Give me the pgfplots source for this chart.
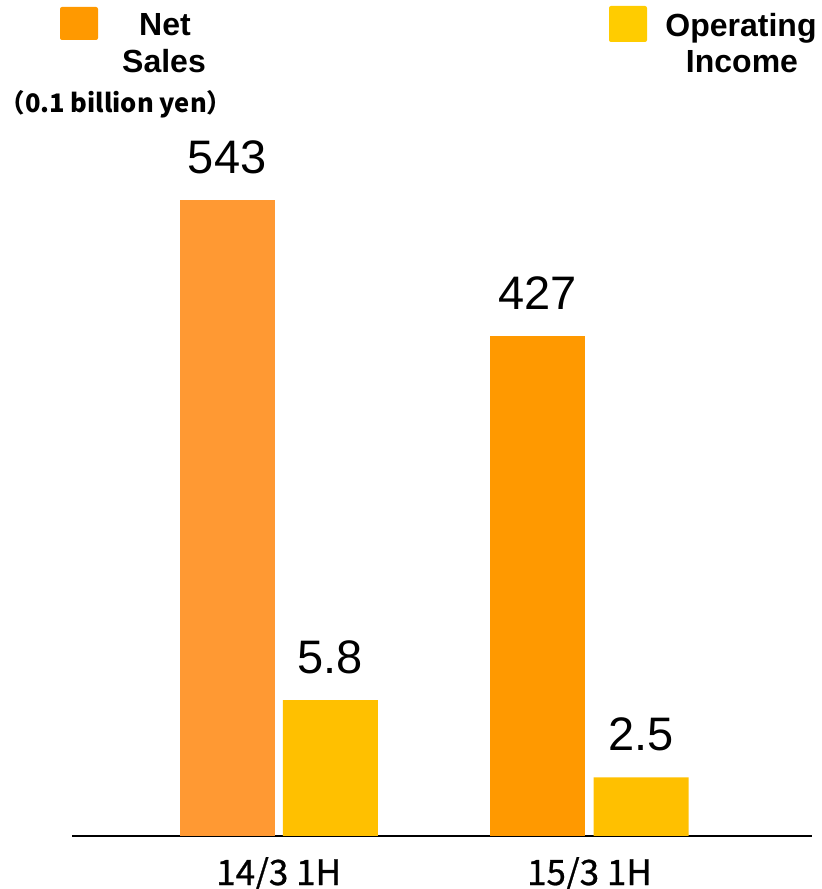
\documentclass[border=0pt]{standalone}
\usepackage{pgfplots}
\pgfplotsset{compat=1.18}
\usepackage{fontspec}
\setmainfont{Liberation Sans}
\newfontfamily\cjk{Noto Sans CJK JP}
\newfontfamily\cjkm[FakeBold=0.8]{Noto Sans CJK JP}
\definecolor{netA}{HTML}{FF9933}
\definecolor{netB}{HTML}{FF9900}
\definecolor{opinc}{HTML}{FFC000}
\definecolor{legNet}{HTML}{FF9900}
\definecolor{legOp}{HTML}{FFCC00}
\begin{document}
\begin{tikzpicture}[x=1pt,y=1pt]
\useasboundingbox (0,0) rectangle (822,889);
\pgfplotsset{base/.style={scale only axis, width=740pt, height=702.8pt,
  at={(72pt,53pt)}, anchor=south west, xmin=-0.665, xmax=1.716, ymin=0,
  clip=false, ybar, bar width=95pt,
  /pgf/number format/assume math mode=true,
  nodes near coords,
  nodes near coords style={font=\fontsize{47}{47}\selectfont, anchor=south, inner sep=0pt, yshift=26pt, black}}}
\begin{axis}[base, ymax=600, axis x line*=bottom, axis y line=none,
  x axis line style={-, line width=2pt, black},
  xtick={0,1}, xticklabels={14/3 1H, 15/3 1H}, major tick length=0pt,
  xticklabel style={font=\cjkm\fontsize{35}{35}\selectfont, anchor=base, yshift=-49pt, inner sep=0pt}]
\addplot[fill=netA, draw=none, bar shift=-51.6pt] coordinates {(0,543)};
\addplot[fill=netB, draw=none, bar shift=-51.6pt] coordinates {(1,427)};
\end{axis}
\begin{axis}[base, ymax=30, axis lines=none, xtick=\empty, ytick=\empty]
\addplot[fill=opinc, draw=none, bar shift=51.6pt] coordinates {(0,5.8) (1,2.5)};
\end{axis}
\fill[legNet, rounded corners=2pt] (60,849) rectangle (98,882);
\node[anchor=base, font=\bfseries\fontsize{32}{32}\selectfont, inner sep=0pt] at (165,853) {Net};
\node[anchor=base, font=\bfseries\fontsize{32}{32}\selectfont, inner sep=0pt] at (164,816) {Sales};
\node[anchor=base, font=\cjk\bfseries\fontsize{25.5}{25.5}\selectfont, inner sep=0pt] at (116,776) {（0.1 billion yen）};
\fill[legOp, rounded corners=2pt] (609,847) rectangle (647,883);
\node[anchor=base, font=\bfseries\fontsize{32}{32}\selectfont, inner sep=0pt] at (741,852) {Operating};
\node[anchor=base, font=\bfseries\fontsize{32}{32}\selectfont, inner sep=0pt] at (742,816) {Income};
\end{tikzpicture}
\end{document}
